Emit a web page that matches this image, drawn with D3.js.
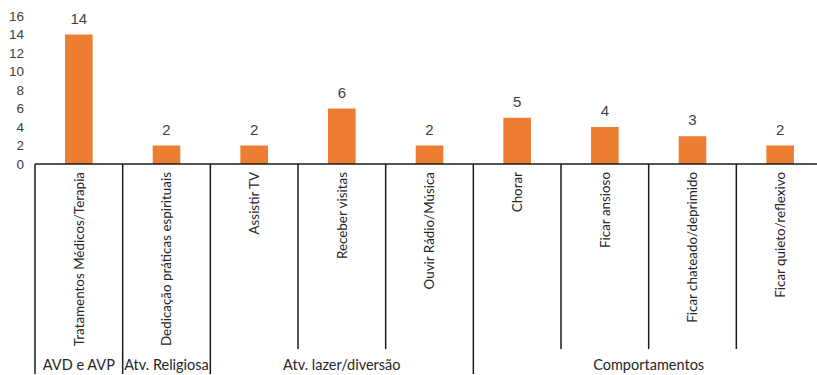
<!DOCTYPE html>
<html>
<head>
<meta charset="utf-8">
<script src="https://cdn.jsdelivr.net/npm/d3@7"></script>
<style>
  body { margin: 0; background: #fff; }
  svg { display: block; }
</style>
</head>
<body>
<div id="chart-area"></div>
<script>
// data
var categories = [
  "Tratamentos Médicos/Terapia",
  "Dedicação práticas espirituais",
  "Assistir TV",
  "Receber visitas",
  "Ouvir Rádio/Música",
  "Chorar",
  "Ficar ansioso",
  "Ficar chateado/deprimido",
  "Ficar quieto/reflexivo"
];
var values = [14, 2, 2, 6, 2, 5, 4, 3, 2];
var groupNames = ["AVD e AVP", "Atv. Religiosa", "Atv. lazer/diversão", "Comportamentos"];
var groupSizes = [1, 1, 3, 4];
var yTicks = [0, 2, 4, 6, 8, 10, 12, 14, 16];

var width = 817, height = 375;
var plotLeft = 35, plotRight = 824, plotTop = 16, axisY = 164;
var shortBottom = 349, fullBottom = 374;

var svg = d3.select("#chart-area").append("svg")
  .attr("width", width)
  .attr("height", height);

// scales
var x = d3.scaleBand()
  .domain(categories)
  .range([plotLeft, plotRight])
  .paddingInner(0.685)
  .paddingOuter(0.3425);

var y = d3.scaleLinear()
  .domain([0, 16])
  .range([axisY, plotTop]);

// y axis (labels only)
var yAxisCall = d3.axisLeft(y)
  .tickValues(yTicks)
  .tickSize(0)
  .tickPadding(11);
var yAxis = svg.append("g")
  .attr("transform", "translate(" + plotLeft + ",0)")
  .call(yAxisCall);
yAxis.select(".domain").remove();
yAxis.selectAll("text")
  .attr("font-family", "Liberation Sans, Arial, sans-serif")
  .attr("font-size", "13.5px")
  .attr("fill", "#404040");

// bars
svg.selectAll("rect.bar")
  .data(values)
  .enter()
  .append("rect")
  .attr("class", "bar")
  .attr("x", function(d, i) { return x(categories[i]); })
  .attr("y", function(d) { return y(d); })
  .attr("width", x.bandwidth())
  .attr("height", function(d) { return axisY - y(d); })
  .attr("fill", "#ED7D31");

// value labels
svg.selectAll("text.value")
  .data(values)
  .enter()
  .append("text")
  .attr("class", "value")
  .attr("x", function(d, i) { return x(categories[i]) + x.bandwidth() / 2; })
  .attr("y", function(d) { return y(d) - 11; })
  .attr("text-anchor", "middle")
  .attr("font-family", "Liberation Sans, Arial, sans-serif")
  .attr("font-size", "15px")
  .attr("fill", "#404040")
  .text(function(d) { return d; });

// category box lines
var step = x.step();
var groupStarts = [];
var acc = 0;
groupSizes.forEach(function(n) { groupStarts.push(acc); acc += n; });

var lineG = svg.append("g")
  .attr("stroke", "#1a1a1a")
  .attr("stroke-width", 1.5);

lineG.append("line")
  .attr("x1", plotLeft).attr("x2", plotRight)
  .attr("y1", axisY).attr("y2", axisY);

d3.range(categories.length + 1).forEach(function(i) {
  var xx = plotLeft + i * step;
  var full = groupStarts.indexOf(i) >= 0 || i === categories.length;
  lineG.append("line")
    .attr("x1", xx).attr("x2", xx)
    .attr("y1", axisY)
    .attr("y2", full ? fullBottom : shortBottom);
});

// rotated category labels
svg.selectAll("text.cat")
  .data(categories)
  .enter()
  .append("text")
  .attr("class", "cat")
  .attr("transform", function(d) {
    return "translate(" + (x(d) + x.bandwidth() / 2) + "," + (axisY + 8) + ") rotate(-90)";
  })
  .attr("text-anchor", "end")
  .attr("dy", "0.35em")
  .attr("font-family", "Lato, sans-serif")
  .attr("font-size", "13.4px")
  .attr("fill", "#262626")
  .text(function(d) { return d; });

// group labels
svg.selectAll("text.group")
  .data(groupNames)
  .enter()
  .append("text")
  .attr("class", "group")
  .attr("x", function(d, i) {
    var a = plotLeft + groupStarts[i] * step;
    var b = plotLeft + (groupStarts[i] + groupSizes[i]) * step;
    return (a + b) / 2;
  })
  .attr("y", 370)
  .attr("text-anchor", "middle")
  .attr("font-family", "Lato, sans-serif")
  .attr("font-size", "14.5px")
  .attr("fill", "#262626")
  .text(function(d) { return d; });
</script>
</body>
</html>
